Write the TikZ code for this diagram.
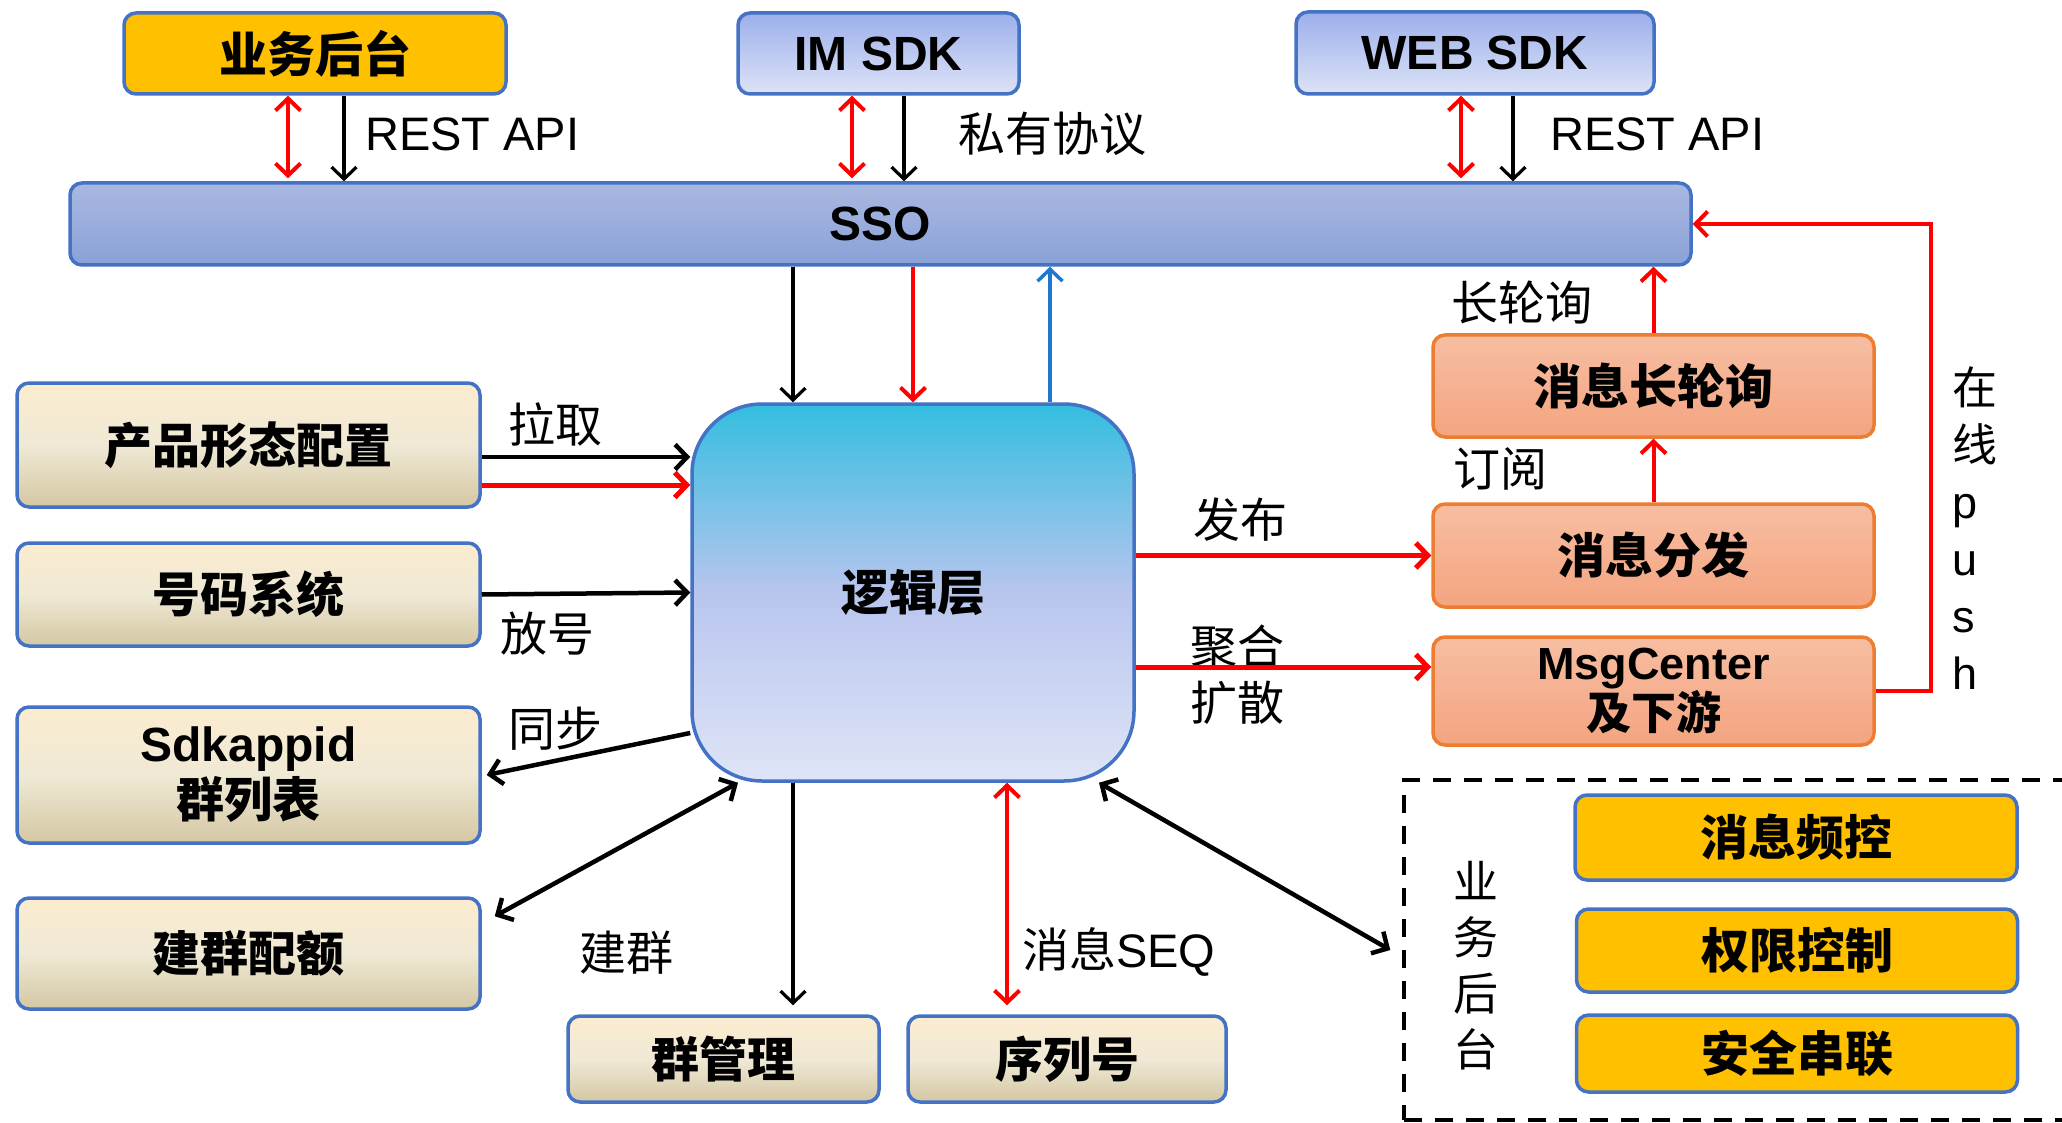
\documentclass[tikz,border=0pt]{standalone}
\usepackage{fontspec}
\setmainfont{Liberation Sans}
\newfontfamily\cjk{Noto Sans CJK SC}
\usetikzlibrary{arrows.meta}
\newcommand\zh[1]{{\cjk #1}}
\definecolor{bordblue}{HTML}{4472C4}
\definecolor{gold}{HTML}{FFC000}
\definecolor{sdkT}{HTML}{9CAFEA}
\definecolor{sdkB}{HTML}{DDE3F7}
\definecolor{ssoT}{HTML}{AAB8E1}
\definecolor{ssoB}{HTML}{8AA2D7}
\definecolor{bgT}{HTML}{FCECCF}
\definecolor{bgM}{HTML}{EFE9D5}
\definecolor{bgB}{HTML}{D4C7A3}
\definecolor{ljT}{HTML}{33BEE0}
\definecolor{ljM}{HTML}{B8C5EE}
\definecolor{ljB}{HTML}{DFE5F7}
\definecolor{orT}{HTML}{F7BEA2}
\definecolor{orB}{HTML}{F4A480}
\definecolor{orD}{HTML}{ED7D31}
\definecolor{arrblue}{HTML}{1F77D0}
\begin{document}
\begin{tikzpicture}[x=1pt,y=-1pt,
  >={Straight Barb[length=12pt,width=25pt]},
  box/.style={draw=bordblue,line width=3.5pt,rounded corners=12pt,inner sep=0pt,align=center,
    font=\fontsize{48}{52}\selectfont\bfseries},
  ybox/.style={box,fill=gold},
  bbox/.style={box,top color=sdkT,bottom color=sdkB},
  ssobox/.style={box,top color=ssoT,bottom color=ssoB},
  cbox/.style={box,top color=bgT,bottom color=bgB,middle color=bgM},
  ljbox/.style={box,rounded corners=70pt,top color=ljT,bottom color=ljB,middle color=ljM},
  obox/.style={box,draw=orD,top color=orT,bottom color=orB},
  grpbox/.style={draw=black,line width=3.5pt,dash pattern=on 18pt off 13pt,inner sep=0pt},
  lbl/.style={inner sep=0pt,font=\fontsize{47}{50}\selectfont},
  ka/.style={black,line width=4.5pt,->},
  kt/.style={black,line width=3.2pt,->},
  kd/.style={black,line width=4.5pt,<->},
  ra/.style={red,line width=5pt,->},
  rt/.style={red,line width=4pt,->},
  rd/.style={red,line width=4pt,<->},
  ba/.style={arrblue,line width=3.5pt,->}]
\fill[white] (0,0) rectangle (2062,1123);
\useasboundingbox (0,0) rectangle (2062,1123);

% nodes
\node[ybox,minimum width=382pt,minimum height=81pt] (yw) at (315,53.5) {\zh{业务后台}};
\node[bbox,minimum width=281pt,minimum height=81pt] (im) at (878.5,53.5) {IM SDK};
\node[bbox,minimum width=358pt,minimum height=82pt] (web) at (1475,53) {WEB SDK};
\node[ssobox,minimum width=1621pt,minimum height=82pt] (sso) at (880.5,224) {SSO};
\node[cbox,minimum width=463pt,minimum height=124pt] (cp) at (248.5,445) {\zh{产品形态配置}};
\node[cbox,minimum width=463pt,minimum height=103pt] (hm) at (248.5,594.5) {\zh{号码系统}};
\node[cbox,minimum width=463pt,minimum height=136pt,font=\fontsize{48}{56}\selectfont\bfseries] (sdk) at (248.5,775) {Sdkappid\\\zh{群列表}};
\node[cbox,minimum width=463pt,minimum height=111pt] (jq) at (248.5,953.5) {\zh{建群配额}};
\node[ljbox,minimum width=442pt,minimum height=377pt] (lj) at (913,592.5) {\zh{逻辑层}};
\node[cbox,minimum width=311pt,minimum height=86pt] (qg) at (723.5,1059) {\zh{群管理}};
\node[cbox,minimum width=318pt,minimum height=86pt] (xl) at (1067,1059) {\zh{序列号}};
\node[obox,minimum width=441pt,minimum height=102pt] (cl) at (1653.5,386) {\zh{消息长轮询}};
\node[obox,minimum width=441pt,minimum height=103pt] (ff) at (1653.5,555.5) {\zh{消息分发}};
\node[obox,minimum width=441pt,minimum height=108pt,font=\fontsize{45}{46}\selectfont\bfseries] (mc) at (1653.5,691) {MsgCenter\\\zh{及下游}};
\node[grpbox,minimum width=706pt,minimum height=340pt] (bk) at (1757,950) {};
\node[ybox,minimum width=442pt,minimum height=85pt] (pk) at (1796,837.5) {\zh{消息频控}};
\node[ybox,minimum width=441pt,minimum height=83pt] (qx) at (1797,950.5) {\zh{权限控制}};
\node[ybox,minimum width=441pt,minimum height=77pt] (aq) at (1797,1053.5) {\zh{安全串联}};

% labels
\node[lbl,anchor=west] (l1) at (365,134) {REST API};
\node[lbl,anchor=west] (l2) at (958,134) {\zh{私有协议}};
\node[lbl,anchor=west] (l3) at (1550,134) {REST API};
\node[lbl] (l4) at (555,424) {\zh{拉取}};
\node[lbl] (l5) at (547,634) {\zh{放号}};
\node[lbl] (l6) at (555,729) {\zh{同步}};
\node[lbl] (l7) at (626,953) {\zh{建群}};
\node[lbl,anchor=west] (l8) at (1022,952) {\zh{消息}SEQ};
\node[lbl] (l9) at (1522,303) {\zh{长轮询}};
\node[lbl] (l10) at (1500,469) {\zh{订阅}};
\node[lbl] (l11) at (1240,520) {\zh{发布}};
\node[lbl] (l12) at (1237,647) {\zh{聚合}};
\node[lbl] (l13) at (1237,703) {\zh{扩散}};
\node[lbl,align=left,font=\fontsize{45}{57}\selectfont] (l14) at (1975,528) {\zh{在}\\\zh{线}\\p\\u\\s\\h};
\node[lbl,align=center,font=\fontsize{45}{56}\selectfont] (l15) at (1476,966) {\zh{业}\\\zh{务}\\\zh{后}\\\zh{台}};

% x / y reference coordinates
\coordinate (t1) at (288,0);
\coordinate (t2) at (344,0);
\coordinate (t3) at (852,0);
\coordinate (t4) at (904,0);
\coordinate (t5) at (1461,0);
\coordinate (t6) at (1513,0);
\coordinate (v1) at (793,0);
\coordinate (v2) at (913,0);
\coordinate (v3) at (1050,0);
\coordinate (v4) at (1007,0);
\coordinate (d2) at (738,0);
\coordinate (e2) at (1099,0);
\coordinate (p2) at (1931,0);
\coordinate (h1) at (0,457);
\coordinate (h2) at (0,485);
\coordinate (h4) at (0,667);
\coordinate (s1) at (0,733);

% top connectors
\draw[rd] (yw.south -| t1) -- ([yshift=3pt]sso.north -| t1);
\draw[kt] (yw.south -| t2) -- (sso.north -| t2);
\draw[rd] (im.south -| t3) -- ([yshift=3pt]sso.north -| t3);
\draw[kt] (im.south -| t4) -- (sso.north -| t4);
\draw[rd] (web.south -| t5) -- ([yshift=3pt]sso.north -| t5);
\draw[kt] (web.south -| t6) -- (sso.north -| t6);

% SSO <-> logic
\draw[kt] (sso.south -| v1) -- (lj.north -| v1);
\draw[rt] (sso.south -| v2) -- (lj.north -| v2);
\draw[ba] (lj.north -| v3) -- (sso.south -| v3);

% left side
\draw[ka] (cp.east |- h1) -- (lj.west |- h1);
\draw[ra] (cp.east |- h2) -- (lj.west |- h2);
\draw[ka] (hm.east) -- (lj.west);
\draw[ka] (lj.west |- s1) -- ([xshift=5pt]sdk.east);
\draw[kd] ([xshift=13pt,yshift=-20pt]jq.north east) -- (lj.south -| d2);

% bottom
\draw[kt,shorten >=9pt] (lj.south -| v1) -- (qg.north -| v1);
\draw[rd,shorten >=9pt] (lj.south -| v4) -- (xl.north -| v4);
\draw[kd] (lj.south -| e2) -- ([xshift=-12pt]bk.west);

% right side
\draw[ra] (lj.east |- ff.west) -- (ff.west);
\draw[ra] (lj.east |- h4) -- (mc.west |- h4);
\draw[rt] (ff.north) -- (cl.south);
\draw[rt] (cl.north) -- (sso.south -| cl.north);
\draw[rt] (mc.east) -- (mc.east -| p2) |- (sso.east);
\end{tikzpicture}
\end{document}
